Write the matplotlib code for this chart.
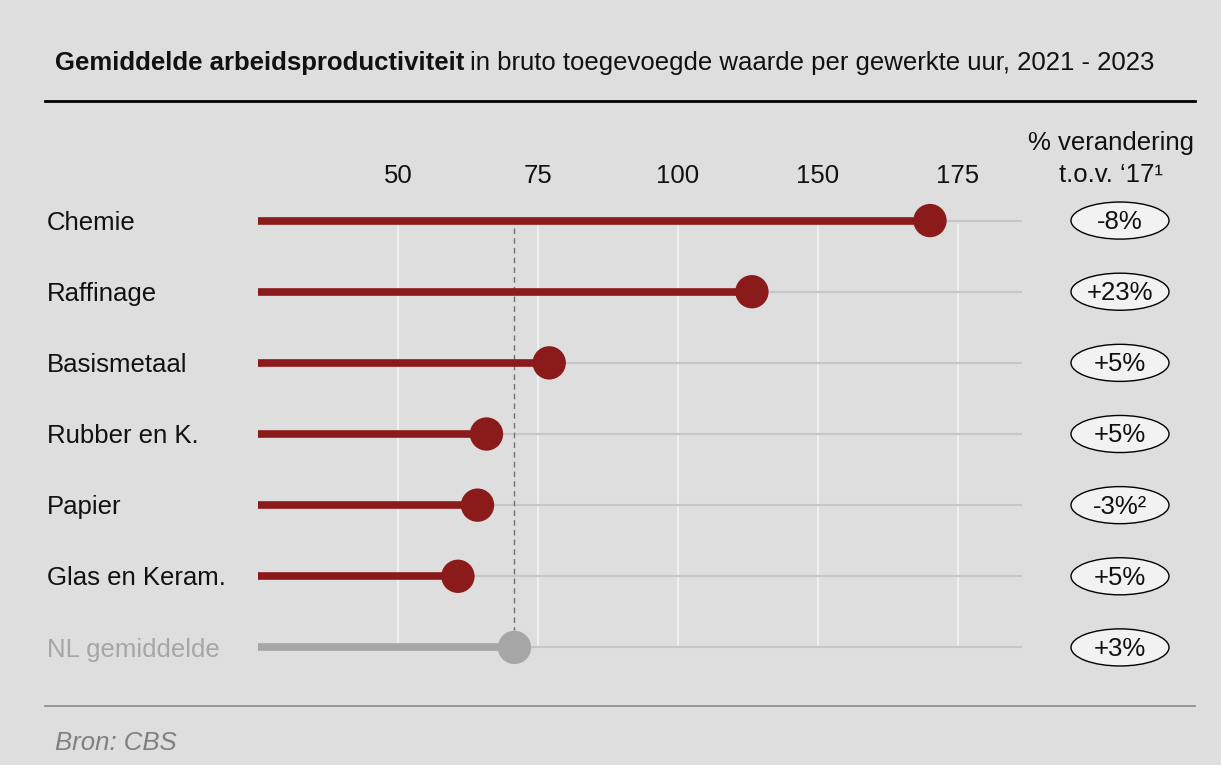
import numpy as np
import matplotlib
matplotlib.use("Agg")
import matplotlib.pyplot as plt
import matplotlib.transforms as mtransforms
from matplotlib.patches import Ellipse
from matplotlib.lines import Line2D

plt.rcParams['font.family'] = ['Liberation Sans', 'DejaVu Sans']

# data
sectors = ['Chemie', 'Raffinage', 'Basismetaal', 'Rubber en K.', 'Papier', 'Glas en Keram.', 'NL gemiddelde']
values = [145.0, 113.2, 77.0, 65.8, 64.2, 60.7, 70.8]
changes = ['-8%', '+23%', '+5%', '+5%', '-3%\u00b2', '+5%', '+3%']
tick_vals = [50, 75, 100, 125, 150]
tick_labels = ['50', '75', '100', '150', '175']
nl_avg = 70.8

W, H = 1221, 765
bg = '#dedede'
red = '#8b1a1a'
grey = '#a6a6a6'

fig = plt.figure(figsize=(W / 100, H / 100), dpi=100, facecolor=bg)
ax = fig.add_axes([258 / W, 1 - 683 / H, 764 / W, 498 / H])
ax.set_facecolor('none')
ax.set_xlim(25, 25 + 764 / 5.6)
ax.set_ylim(len(sectors) - 0.5, -0.5)
for s in ax.spines.values():
    s.set_visible(False)
ax.set_yticks([])
ax.xaxis.tick_top()
ax.set_xticks(tick_vals)
ax.set_xticklabels(tick_labels, fontsize=18.5, color='#111111')
ax.tick_params(axis='x', length=0, pad=-2)

rows = np.arange(len(sectors))
colors = [red] * (len(sectors) - 1) + [grey]

# gridlines
ax.vlines(tick_vals, 0.05, rows[-1], color='#f4f4f4', lw=1.2, zorder=0)
ax.hlines(rows, 25, ax.get_xlim()[1], color='#c6c6c6', lw=1.5, zorder=1)
ax.vlines(nl_avg, 0.1, 5.76, color='#707070', lw=1, linestyles=(0, (4, 3)), zorder=1)

# lollipops
ax.hlines(rows, 25, values, color=colors, lw=5.5, zorder=2)
ax.scatter(values, rows, s=24 ** 2, color=colors, zorder=3, linewidths=0)

# row labels and change ellipses
trans = mtransforms.blended_transform_factory(fig.transFigure, ax.transData)
for i, (name, ch) in enumerate(zip(sectors, changes)):
    c = grey if i == len(sectors) - 1 else '#111111'
    ax.text(47 / W, i + 0.03, name, transform=trans, ha='left', va='center', fontsize=18.5, color=c, clip_on=False)
    e = Ellipse((1120 / W, i), 98 / W, 37 / 71, transform=trans, facecolor='#f2f2f2',
                edgecolor='black', lw=1, clip_on=False)
    ax.add_patch(e)
    ax.text(1120 / W, i + 0.02, ch, transform=trans, ha='center', va='center', fontsize=18.5,
            color='#111111', clip_on=False)

# right header
fig.text(1111 / W, 1 - 143 / H, '% verandering', ha='center', va='center', fontsize=18.5, color='#111111')
fig.text(1111 / W, 1 - 175 / H, 't.o.v. \u201817\u00b9', ha='center', va='center', fontsize=18.5, color='#111111')

# title
t1 = fig.text(55 / W, 1 - 63 / H, 'Gemiddelde arbeidsproductiviteit', ha='left', va='center',
              fontsize=18.5, fontweight='bold', color='#111111')
fig.canvas.draw()
bb = t1.get_window_extent()
fig.text((bb.x1 + 6) / W, 1 - 63 / H, 'in bruto toegevoegde waarde per gewerkte uur, 2021 - 2023',
         ha='left', va='center', fontsize=18.5, color='#111111')

fig.add_artist(Line2D([45 / W, 1195 / W], [1 - 101 / H] * 2, color='black', lw=2))
fig.add_artist(Line2D([45 / W, 1195 / W], [1 - 706 / H] * 2, color='#8a8a8a', lw=1.2))

fig.text(55 / W, 1 - 743 / H, 'Bron: CBS', ha='left', va='center', fontsize=18.5,
         style='italic', color='#808080')

fig.savefig('out.png', dpi=100, facecolor=bg)
